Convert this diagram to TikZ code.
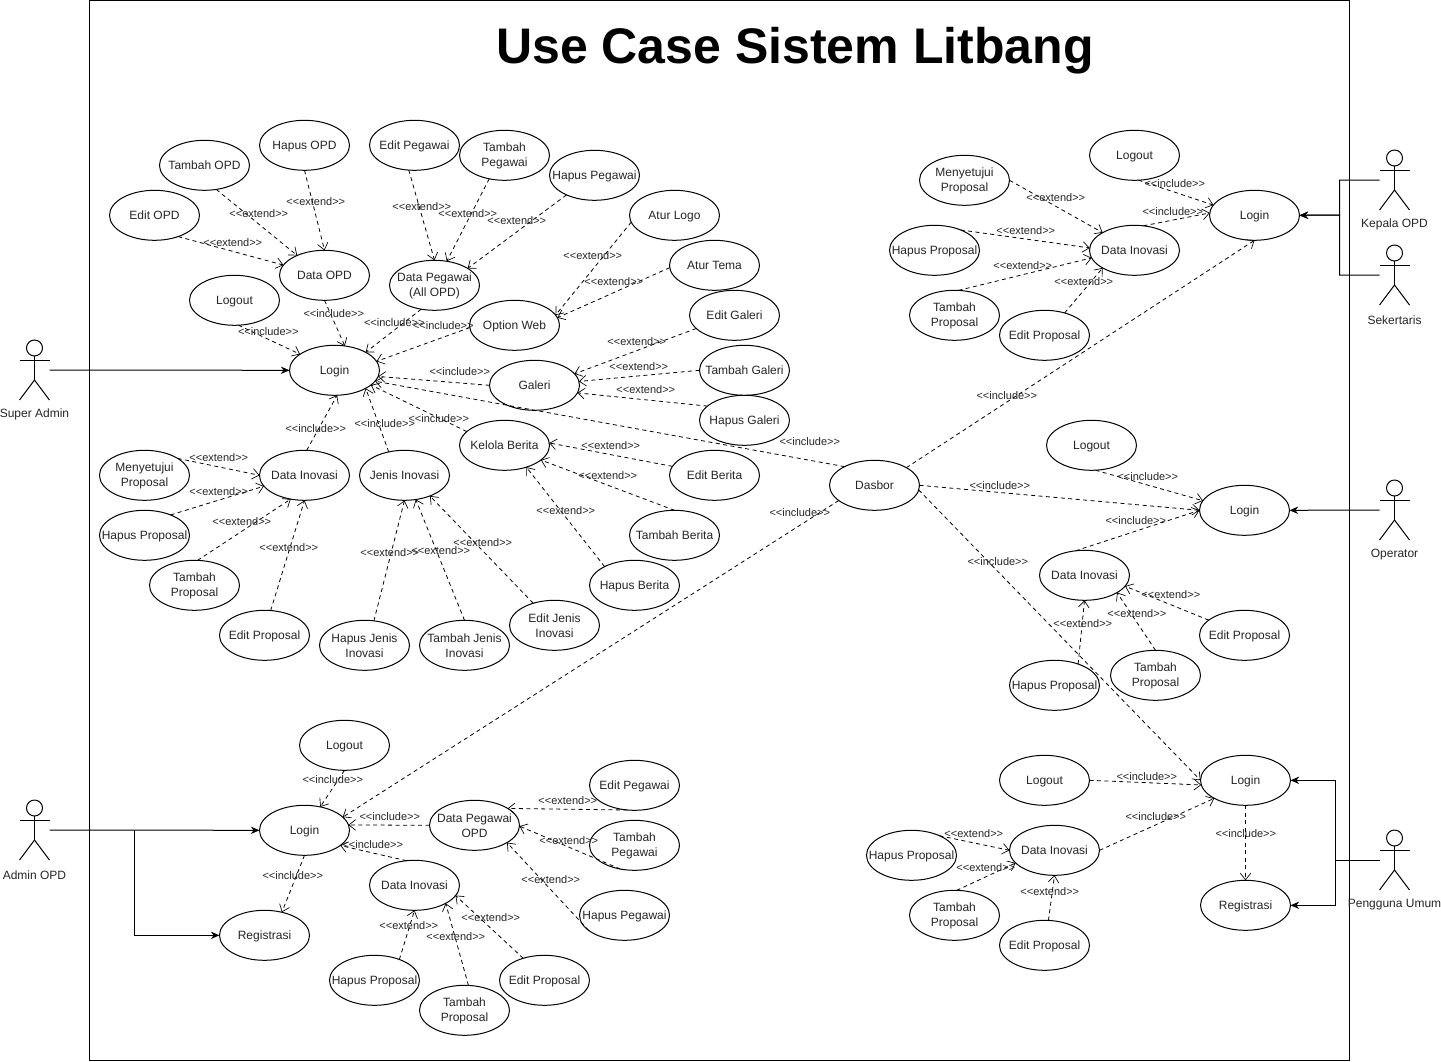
\documentclass[tikz,border=0pt]{standalone}
\usepackage{fontspec}
\setmainfont{Liberation Sans}
\usetikzlibrary{shapes.geometric,arrows.meta}
\tikzset{
  uc/.style={ellipse,draw=black,line width=0.75pt,minimum width=67.5pt,minimum height=37.5pt,inner xsep=-14pt,inner ysep=-8pt,outer sep=0pt,
    align=center,font=\fontsize{9}{11.25}\selectfont,text=black!85},
  dep/.style={dash pattern=on 3pt off 2.6pt,line width=0.6pt,-{Straight Barb[length=5pt,width=8pt,line width=0.5pt]}},
  assoc/.style={line width=0.75pt,-{Stealth[length=6.5pt,width=5.5pt]}},
  lab/.style={inner sep=0pt,font=\fontsize{8.25}{10}\selectfont,text=black!85},
  actorbox/.style={minimum width=22.5pt,minimum height=45pt,inner sep=0pt,outer sep=0pt,draw=none},
  actorline/.style={line width=0.75pt},
  actorlab/.style={inner sep=0pt,font=\fontsize{9}{11}\selectfont,text=black!85},
}
\newcommand{\UC}[4]{\node[uc] (#1) at ({#2+0.5},{#3+0.3}) {\rule{0pt}{8pt}#4\rule[-1.5pt]{0pt}{1.5pt}};}
\newcommand{\Lb}[4]{\node[lab] (#1) at ({#2+0.8},{#3+1}) {<{}<#4>{}>};}
\newcommand{\Dp}[4]{\draw[dep] (#1.#2) -- (#3.#4);}
\newcommand{\Actor}[4]{%
  \node[actorbox] (#1) at (#2,#3) {};
  \draw[actorline] ([yshift=16.5pt]#1.center) circle (6pt);
  \draw[actorline] ([yshift=10.5pt]#1.center) -- ([yshift=-7.5pt]#1.center);
  \draw[actorline] ([yshift=7.5pt]#1.west) -- ([yshift=7.5pt]#1.east);
  \draw[actorline] (#1.south west) -- ([yshift=-7.5pt]#1.center) -- (#1.south east);
  \node[actorlab] (#1L) at ([yshift=-33.6pt]#1.center) {#4};
}
\begin{document}
\begin{tikzpicture}[x=0.75pt,y=-0.75pt]
\useasboundingbox (0,0) rectangle (1441,1061);
\fill[white] (0,0) rectangle (1441,1061);
\draw[line width=0.75pt] (89.5,0.5) rectangle (1349.5,1060);
\node[inner sep=0pt,font=\bfseries\fontsize{37.5}{40}\selectfont] (title) at (795,51) {Use Case Sistem Litbang};

% Super admin use cases
\UC{hopd}{304}{145}{Hapus OPD}
\UC{topd}{204}{165}{Tambah OPD}
\UC{eopd}{154}{215}{Edit OPD}
\UC{dopd}{324}{275}{Data OPD}
\UC{lgo}{234}{300}{Logout}
\UC{lgn}{334}{370}{Login}
\UC{epeg}{414}{145}{Edit Pegawai}
\UC{tpeg}{504}{155}{Tambah\\Pegawai}
\UC{hpeg}{594}{175}{Hapus Pegawai}
\UC{dpeg}{434}{285}{Data Pegawai\\(All OPD)}
\UC{alogo}{674}{215}{Atur Logo}
\UC{atema}{714}{265}{Atur Tema}
\UC{owb}{514}{325}{Option Web}
\UC{egal}{734}{315}{Edit Galeri}
\UC{tgal}{744}{370}{Tambah Galeri}
\UC{hgal}{744}{420}{Hapus Galeri}
\UC{gal}{534}{385}{Galeri}
\UC{kb}{504}{445}{Kelola Berita}
\UC{eb}{714}{475}{Edit Berita}
\UC{tb}{674}{535}{Tambah Berita}
\UC{hb}{634}{585}{Hapus Berita}
\UC{ji}{404}{475}{Jenis Inovasi}
\UC{di}{304}{475}{Data Inovasi}
\UC{mp}{144}{475}{Menyetujui\\Proposal}
\UC{hp}{144}{535}{Hapus Proposal}
\UC{tp}{194}{585}{Tambah\\Proposal}
\UC{ep}{264}{635}{Edit Proposal}
\UC{hji}{364}{645}{Hapus Jenis\\Inovasi}
\UC{tji}{464}{645}{Tambah Jenis\\Inovasi}
\UC{eji}{554}{625}{Edit Jenis\\Inovasi}
\UC{das}{874}{485}{Dasbor}
% Kepala OPD
\UC{klgo}{1134}{155}{Logout}
\UC{kmp}{964}{180}{Menyetujui\\Proposal}
\UC{klgn}{1254}{215}{Login}
\UC{khp}{934}{250}{Hapus Proposal}
\UC{kdi}{1134}{250}{Data Inovasi}
\UC{ktp}{954}{315}{Tambah\\Proposal}
\UC{kep}{1044}{335}{Edit Proposal}
% Operator
\UC{olgo}{1091}{445}{Logout}
\UC{olgn}{1244}{510}{Login}
\UC{odi}{1084}{575}{Data Inovasi}
\UC{oep}{1244}{635}{Edit Proposal}
\UC{otp}{1155}{675}{Tambah\\Proposal}
\UC{ohp}{1054}{685}{Hapus Proposal}
% Pengguna umum
\UC{ulgo}{1044}{780}{Logout}
\UC{ulgn}{1245}{780}{Login}
\UC{ureg}{1245}{905}{Registrasi}
\UC{udi}{1054}{850}{Data Inovasi}
\UC{uhp}{911}{855}{Hapus Proposal}
\UC{utp}{954}{915}{Tambah\\Proposal}
\UC{uep}{1044}{945}{Edit Proposal}
% Admin OPD
\UC{algo}{344}{745}{Logout}
\UC{algn}{304}{830}{Login}
\UC{areg}{264}{935}{Registrasi}
\UC{adp}{474}{825}{Data Pegawai\\OPD}
\UC{aep}{634}{785}{Edit Pegawai}
\UC{atpg}{634}{845}{Tambah\\Pegawai}
\UC{ahpg}{624}{915}{Hapus Pegawai}
\UC{adi}{414}{885}{Data Inovasi}
\UC{ahp}{374}{980}{Hapus Proposal}
\UC{atp}{464}{1010}{Tambah\\Proposal}
\UC{aedp}{544}{980}{Edit Proposal}

% Actors
\Actor{sa}{34.5}{370}{Super Admin}
\Actor{ao}{34.5}{830}{Admin OPD}
\Actor{ko}{1394.5}{180}{Kepala OPD}
\Actor{sk}{1394.5}{275}{Sekertaris}
\Actor{op}{1394.5}{510}{Operator}
\Actor{pu}{1394.5}{860}{Pengguna Umum}

% Actor associations
\coordinate (kj) at (1339.5,215);
\coordinate (aj) at (134.5,830);
\coordinate (uj) at (1335,860);
\draw[assoc] (sa.east) -- (lgn.west);
\draw[assoc] (ao.east) -- (algn.west);
\draw[assoc] (aj) |- (areg.west);
\draw[assoc] (ko.west) -| (kj) -- (klgn.east);
\draw[assoc] (sk.west) -| (kj) -- (klgn.east);
\draw[assoc] (op.west) -- (olgn.east);
\draw[assoc] (pu.west) -- (uj) |- (ulgn.east);
\draw[assoc] (uj) |- (ureg.east);

% Super admin dependencies
\Dp{eopd}{-42}{dopd}{166}
\Dp{topd}{-64}{dopd}{144}
\Dp{hopd}{-90}{dopd}{90}
\Dp{dopd}{-90}{lgn}{67}
\Dp{lgo}{-81}{lgn}{155}
\Dp{epeg}{-103}{dpeg}{90}
\Dp{tpeg}{-123}{dpeg}{63}
\Dp{hpeg}{-145}{dpeg}{27}
\Dp{dpeg}{-119}{lgn}{30}
\Dp{owb}{-177}{lgn}{12}
\Dp{gal}{180}{lgn}{-8}
\Dp{kb}{160}{lgn}{-22}
\Dp{das}{148}{lgn}{-15}
\Dp{ji}{124}{lgn}{-30}
\Dp{di}{85}{lgn}{-84}
\Dp{egal}{-161}{gal}{16}
\Dp{tgal}{180}{gal}{5}
\Dp{hgal}{159}{gal}{-10}
\Dp{alogo}{-171}{owb}{14}
\Dp{atema}{-177}{owb}{10}
\Dp{eb}{168}{kb}{3}
\Dp{tb}{90}{kb}{-22}
\Dp{hb}{148}{kb}{-45}
\Dp{mp}{27}{di}{180}
\Dp{hp}{38}{di}{-165}
\Dp{tp}{83}{di}{-120}
\Dp{ep}{76}{di}{-90}
\Dp{hji}{69}{ji}{-90}
\Dp{tji}{90}{ji}{-65}
\Dp{eji}{134}{ji}{-39}
% Dasbor
\Dp{das}{29}{klgn}{-90}
\Dp{das}{0}{olgn}{180}
\Dp{das}{-6}{ulgn}{180}
\Dp{das}{-157}{algn}{19}
% Kepala dependencies
\Dp{klgo}{-81}{klgn}{166}
\Dp{kdi}{70}{klgn}{177}
\Dp{kmp}{0}{kdi}{151}
\Dp{khp}{38}{kdi}{177}
\Dp{ktp}{81}{kdi}{-170}
\Dp{kep}{48}{kdi}{-151}
% Operator dependencies
\Dp{olgo}{-81}{olgn}{167}
\Dp{odi}{110}{olgn}{180}
\Dp{oep}{157}{odi}{-15}
\Dp{otp}{90}{odi}{-28}
\Dp{ohp}{42}{odi}{-90}
% Pengguna umum dependencies
\Dp{ulgo}{0}{ulgn}{-174}
\Dp{udi}{0}{ulgn}{-150}
\Dp{ulgn}{-90}{ureg}{90}
\Dp{uhp}{35}{udi}{180}
\Dp{utp}{85}{udi}{-162}
\Dp{uep}{81}{udi}{-90}
% Admin OPD dependencies
\Dp{algo}{-90}{algn}{56}
\Dp{adp}{180}{algn}{7}
\Dp{adi}{108}{algn}{-23}
\Dp{algn}{-90}{areg}{53}
\Dp{aep}{-106}{adp}{27}
\Dp{atpg}{-121}{adp}{-1}
\Dp{ahpg}{-157}{adp}{-28}
\Dp{ahp}{40}{adi}{-90}
\Dp{atp}{81}{adi}{-30}
\Dp{aedp}{134}{adi}{-14}

% Labels
\Lb{l1}{315}{201}{extend}
\Lb{l2}{258}{213}{extend}
\Lb{l3}{232}{242}{extend}
\Lb{l4}{421}{206}{extend}
\Lb{l5}{467}{213}{extend}
\Lb{l6}{516}{220}{extend}
\Lb{l7}{333}{313}{include}
\Lb{l8}{267.5}{331}{include}
\Lb{l9}{393.5}{322}{include}
\Lb{l10}{442.5}{325}{include}
\Lb{l11}{459}{371}{include}
\Lb{l12}{438}{418}{include}
\Lb{l13}{384}{423}{include}
\Lb{l14}{315}{428}{include}
\Lb{l15}{809}{441}{include}
\Lb{l16}{1006}{395}{include}
\Lb{l17}{999}{485}{include}
\Lb{l18}{997}{561}{include}
\Lb{l19}{799}{512}{include}
\Lb{l20}{592}{255}{extend}
\Lb{l21}{613}{281}{extend}
\Lb{l22}{636}{341}{extend}
\Lb{l23}{638}{366}{extend}
\Lb{l24}{645}{389}{extend}
\Lb{l25}{610}{445}{extend}
\Lb{l26}{607}{475}{extend}
\Lb{l27}{565}{510}{extend}
\Lb{l28}{218}{457}{extend}
\Lb{l29}{218}{491}{extend}
\Lb{l30}{241}{521}{extend}
\Lb{l31}{288}{547}{extend}
\Lb{l32}{389}{552}{extend}
\Lb{l33}{440}{550}{extend}
\Lb{l34}{482}{542}{extend}
\Lb{l35}{1174}{183}{include}
\Lb{l36}{1172}{211}{include}
\Lb{l37}{1055}{197}{extend}
\Lb{l38}{1025}{230}{extend}
\Lb{l39}{1022}{265}{extend}
\Lb{l40}{1083}{281}{extend}
\Lb{l41}{1147}{476}{include}
\Lb{l42}{1135}{520}{include}
\Lb{l43}{1170}{594}{extend}
\Lb{l44}{1136}{613}{extend}
\Lb{l45}{1082}{623}{extend}
\Lb{l46}{1146}{776}{include}
\Lb{l47}{1155}{816}{include}
\Lb{l48}{1245}{833}{include}
\Lb{l49}{973}{833}{extend}
\Lb{l50}{985}{867}{extend}
\Lb{l51}{1049}{891}{extend}
\Lb{l52}{332}{779}{include}
\Lb{l53}{389}{816}{include}
\Lb{l54}{372}{844}{include}
\Lb{l55}{292}{875}{include}
\Lb{l56}{567}{800}{extend}
\Lb{l57}{568}{840}{extend}
\Lb{l58}{550}{879}{extend}
\Lb{l59}{408}{925}{extend}
\Lb{l60}{455}{936}{extend}
\Lb{l61}{490}{917}{extend}
\end{tikzpicture}
\end{document}
